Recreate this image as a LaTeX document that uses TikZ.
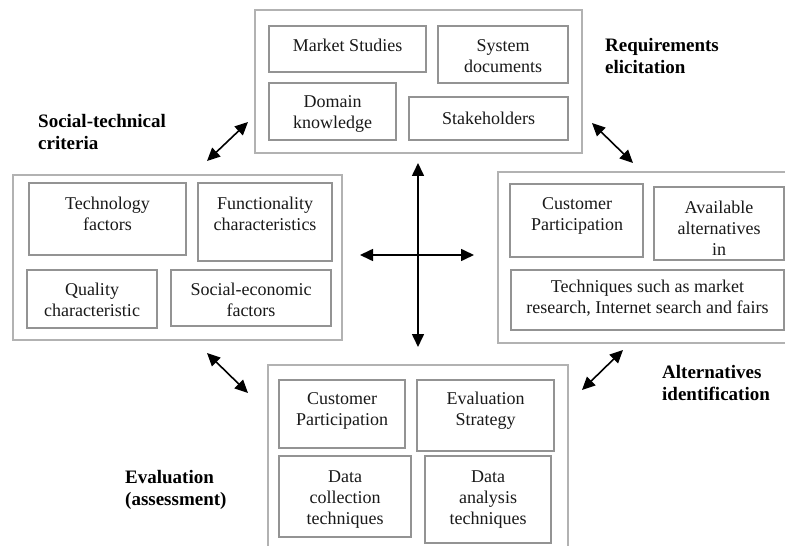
\documentclass[tikz,border=0pt]{standalone}
\usepackage{fontspec}
\setmainfont{Liberation Serif}
\usetikzlibrary{arrows.meta,fit}
\begin{document}
\begin{tikzpicture}[x=1bp,y=-1bp,
  outbox/.style={draw=gray!60,line width=2bp,inner sep=0pt},
  inbox/.style={draw=gray!85,line width=1.2bp,inner sep=0pt},
  txt/.style={align=center,inner sep=0pt,text=black!90,
    font=\fontsize{18bp}{21bp}\selectfont},
  lbl/.style={align=left,anchor=west,inner sep=0pt,
    font=\fontsize{19bp}{22bp}\selectfont\bfseries},
  dbl/.style={{Triangle[length=13bp,width=12bp]}-{Triangle[length=13bp,width=12bp]},
    line width=1.6bp,black}]
\clip (0,0) rectangle (785,546);
\fill[white] (0,0) rectangle (785,546);

% ---- Requirements elicitation (top) ----
\node[outbox,fit={(255,10)(582,153)}] (req) {};
\node[inbox,fit={(269,26)(426,72)}] (ms) {};
\node[inbox,fit={(438,26)(568,83)}] (sd) {};
\node[inbox,fit={(269,83)(396,140)}] (dk) {};
\node[inbox,fit={(409,97)(568,140)}] (sh) {};
\node[txt] (ms-t) at (347.5,45) {Market Studies};
\node[txt] (sd-t) at (503,56) {System\\documents};
\node[txt] (dk-t) at (332.5,114) {Domain\\knowledge};
\node[txt] (sh-t) at (488.5,118) {Stakeholders};

% ---- Social-technical criteria (left) ----
\node[outbox,fit={(13,175)(342,340)}] (soc) {};
\node[inbox,fit={(29,183)(186,255)}] (tf) {};
\node[inbox,fit={(198,183)(332,261)}] (fc) {};
\node[inbox,fit={(27,270)(157,328)}] (qc) {};
\node[inbox,fit={(171,270)(331,326)}] (se) {};
\node[txt] (tf-t) at (107.5,214) {Technology\\factors};
\node[txt] (fc-t) at (265,213.5) {Functionality\\characteristics};
\node[txt] (qc-t) at (92,300) {Quality\\characteristic};
\node[txt] (se-t) at (251,300) {Social-economic\\factors};

% ---- Alternatives identification (right) ----
\node[outbox,fit={(498,172)(800,343)}] (alt) {};
\node[inbox,fit={(510,184)(643,257)}] (cp1) {};
\node[inbox,fit={(654,187)(784,260)}] (aa) {};
\node[inbox,fit={(511,270)(784,330)}] (tq) {};
\node[txt] (cp1-t) at (577,216) {Customer\\Participation};
\node[txt] (aa-t) at (719,228) {Available\\alternatives\\in};
\node[txt] (tq-t) at (647.5,298.5) {Techniques such as market\\research, Internet search and fairs};

% ---- Evaluation (bottom) ----
\node[outbox,fit={(268,365)(568,560)}] (ev) {};
\node[inbox,fit={(279,380)(405,448)}] (cp2) {};
\node[inbox,fit={(417,380)(554,451)}] (es) {};
\node[inbox,fit={(279,456)(411,537)}] (dc) {};
\node[inbox,fit={(425,456)(551,543)}] (da) {};
\node[txt] (cp2-t) at (342,411) {Customer\\Participation};
\node[txt] (es-t) at (485.5,411) {Evaluation\\Strategy};
\node[txt] (dc-t) at (345,499.5) {Data\\collection\\techniques};
\node[txt] (da-t) at (488,499.5) {Data\\analysis\\techniques};

% ---- stage labels ----
\node[lbl] (l-soc) at (38,132) {Social-technical\\criteria};
\node[lbl] (l-req) at (605,56) {Requirements\\elicitation};
\node[lbl] (l-alt) at (662,383) {Alternatives\\identification};
\node[lbl] (l-ev) at (125,490) {Evaluation\\(assessment)};

% ---- connectors ----
\coordinate (a1) at (207,161); \coordinate (b1) at (248,122);
\coordinate (a2) at (592,123); \coordinate (b2) at (633,163);
\coordinate (a3) at (582,390); \coordinate (b3) at (623,350);
\coordinate (a4) at (207,353); \coordinate (b4) at (248,393);
\coordinate (vt) at (418,163); \coordinate (vb) at (418,347);
\coordinate (hl) at (360,255); \coordinate (hr) at (474,255);
\draw[dbl] (a1) -- (b1);
\draw[dbl] (a2) -- (b2);
\draw[dbl] (a3) -- (b3);
\draw[dbl] (a4) -- (b4);
\draw[dbl] (vt) -- (vb);
\draw[dbl] (hl) -- (hr);
\end{tikzpicture}
\end{document}
